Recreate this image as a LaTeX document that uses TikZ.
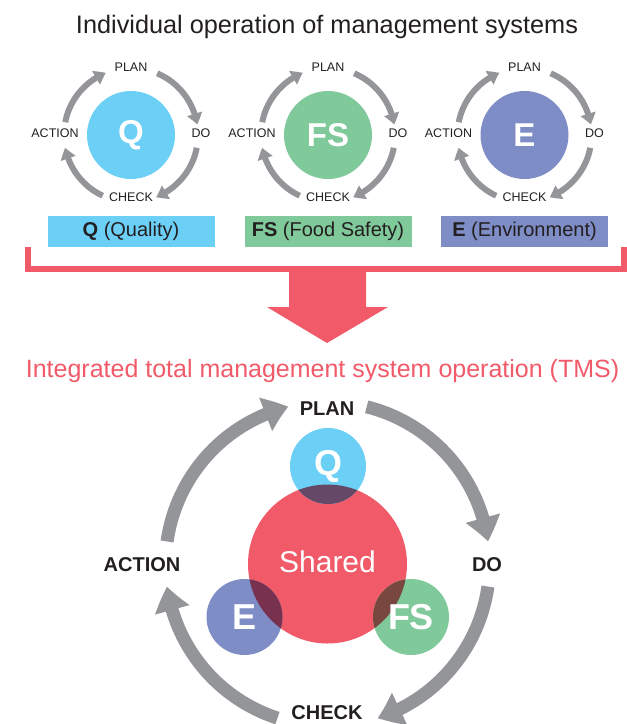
\documentclass[tikz,border=0pt]{standalone}
\usepackage{fontspec}
\setmainfont{Liberation Sans}
\usetikzlibrary{arrows.meta,bending}

\definecolor{qblue}{HTML}{6CCFF6}
\definecolor{fsgreen}{HTML}{7FC99B}
\definecolor{eblue}{HTML}{7F8DC7}
\definecolor{tmsred}{HTML}{F05A69}
\definecolor{cyclegray}{HTML}{939598}
\definecolor{ink}{HTML}{231F20}
% overlaps of each system circle with the shared circle (multiplied colours)
\definecolor{qshared}{HTML}{654865}
\definecolor{eshared}{HTML}{78324F}
\definecolor{fsshared}{HTML}{784740}

\newcommand{\fsz}[1]{\fontsize{#1}{#1}\selectfont}

\tikzset{
  heading/.style={inner sep=0pt, font=\fsz{25.3}},
  sysdisc/.style={circle, inner sep=0pt, minimum size=88pt, text=white, font=\fsz{33}\bfseries},
  phase/.style={inner sep=0pt, text=ink, font=\fsz{12.5}},
  bigphase/.style={inner sep=0pt, text=ink, font=\fsz{20}\bfseries},
  tag/.style={inner sep=0pt, minimum width=167pt, minimum height=31pt, text=ink, font=\fsz{20}},
  smallcycle/.style={draw=cyclegray, line width=6pt, -{Triangle[width=15pt,length=11pt,bend]}},
  bigcycle/.style={draw=cyclegray, line width=13pt, -{Triangle[width=34pt,length=24pt,bend]}},
  member/.style={circle, inner sep=0pt, minimum size=76pt, text=white, font=\fsz{36}\bfseries},
}

\begin{document}
\begin{tikzpicture}[x=1pt, y=-1pt]
\useasboundingbox (0,0) rectangle (627,724);

% ---------- individual operation ----------
\node[heading, text=ink, anchor=base] (title) at (327,33) {Individual operation of management systems};

\foreach \nm/\cx/\col/\lbl/\tagtxt in {Q/131/qblue/Q/{\textbf{Q} (Quality)},
                                       FS/328/fsgreen/FS/{\textbf{FS} (Food Safety)},
                                       E/524.5/eblue/E/{\textbf{E} (Environment)}}{
  \node[sysdisc, fill=\col] (disc\nm) at (\cx,135) {\lbl};
  \node[phase] (plan\nm)   at ([yshift=67.5pt]disc\nm.center) {PLAN};
  \node[phase] (do\nm)     at ([xshift=70pt,yshift=2pt]disc\nm.center) {DO};
  \node[phase] (action\nm) at ([xshift=-76pt,yshift=2pt]disc\nm.center) {ACTION};
  \node[phase] (check\nm)  at ([yshift=-62pt]disc\nm.center) {CHECK};
  \draw[smallcycle] (disc\nm.center) ++(-67:67) arc[start angle=-67, end angle=-9, radius=67];
  \draw[smallcycle] (disc\nm.center) ++(11:67) arc[start angle=11, end angle=68, radius=67];
  \draw[smallcycle] (disc\nm.center) ++(115:67) arc[start angle=115, end angle=169, radius=67];
  \draw[smallcycle] (disc\nm.center) ++(-169:67) arc[start angle=-169, end angle=-112, radius=67];
  \node[tag, fill=\col] (tag\nm) at (\cx,231.5) {\tagtxt};
}

% ---------- bracket and merge arrow ----------
\coordinate (brL) at (28,247);
\coordinate (brR) at (624,247);
\draw[tmsred, line width=6pt] (brL) -- (brL |- 0,269) -- (brR |- 0,269) -- (brR);
\fill[tmsred] (289,266) -- (366,266) -- (366,307) -- (388,307) -- (327,343)
              -- (267,307) -- (289,307) -- cycle;

% ---------- integrated operation ----------
\node[heading, text=tmsred, anchor=base, font=\fsz{25}] (tmstitle) at (322.5,377) {Integrated total management system operation (TMS)};

\node[circle, inner sep=0pt, minimum size=159pt, fill=tmsred] (shared) at (327.5,564) {};
\node[member, fill=qblue]   (memQ)  at (328,466)   {};
\node[member, fill=eblue]   (memE)  at (244.5,617) {};
\node[member, fill=fsgreen] (memFS) at (411,617)   {};

% darker lens where each system overlaps the shared core
\begin{scope}
  \clip (memQ) circle[radius=38pt];
  \fill[qshared] (shared) circle[radius=79.5pt];
\end{scope}
\begin{scope}
  \clip (memE) circle[radius=38pt];
  \fill[eshared] (shared) circle[radius=79.5pt];
\end{scope}
\begin{scope}
  \clip (memFS) circle[radius=38pt];
  \fill[fsshared] (shared) circle[radius=79.5pt];
\end{scope}

\node[text=white, font=\fsz{30}, inner sep=0pt] at (shared.center) [yshift=2pt] {Shared};
\node[text=white, font=\fsz{36}\bfseries, inner sep=0pt] at (memQ.center) {Q};
\node[text=white, font=\fsz{36}\bfseries, inner sep=0pt] at (memE.center) {E};
\node[text=white, font=\fsz{36}\bfseries, inner sep=0pt] at (memFS.center) {FS};

\node[bigphase] (bplan)   at (327,409) {PLAN};
\node[bigphase] (bdo)     at (487,565) {DO};
\node[bigphase] (baction) at (142,565) {ACTION};
\node[bigphase] (bcheck)  at (327,712.5) {CHECK};

\draw[bigcycle] (shared.center) ++(-76:162) arc[start angle=-76, end angle=-8, radius=162];
\draw[bigcycle] (shared.center) ++(8:162) arc[start angle=8, end angle=72, radius=162];
\draw[bigcycle] (shared.center) ++(108:162) arc[start angle=108, end angle=172, radius=162];
\draw[bigcycle] (shared.center) ++(-172:162) arc[start angle=-172, end angle=-104, radius=162];
\end{tikzpicture}
\end{document}
